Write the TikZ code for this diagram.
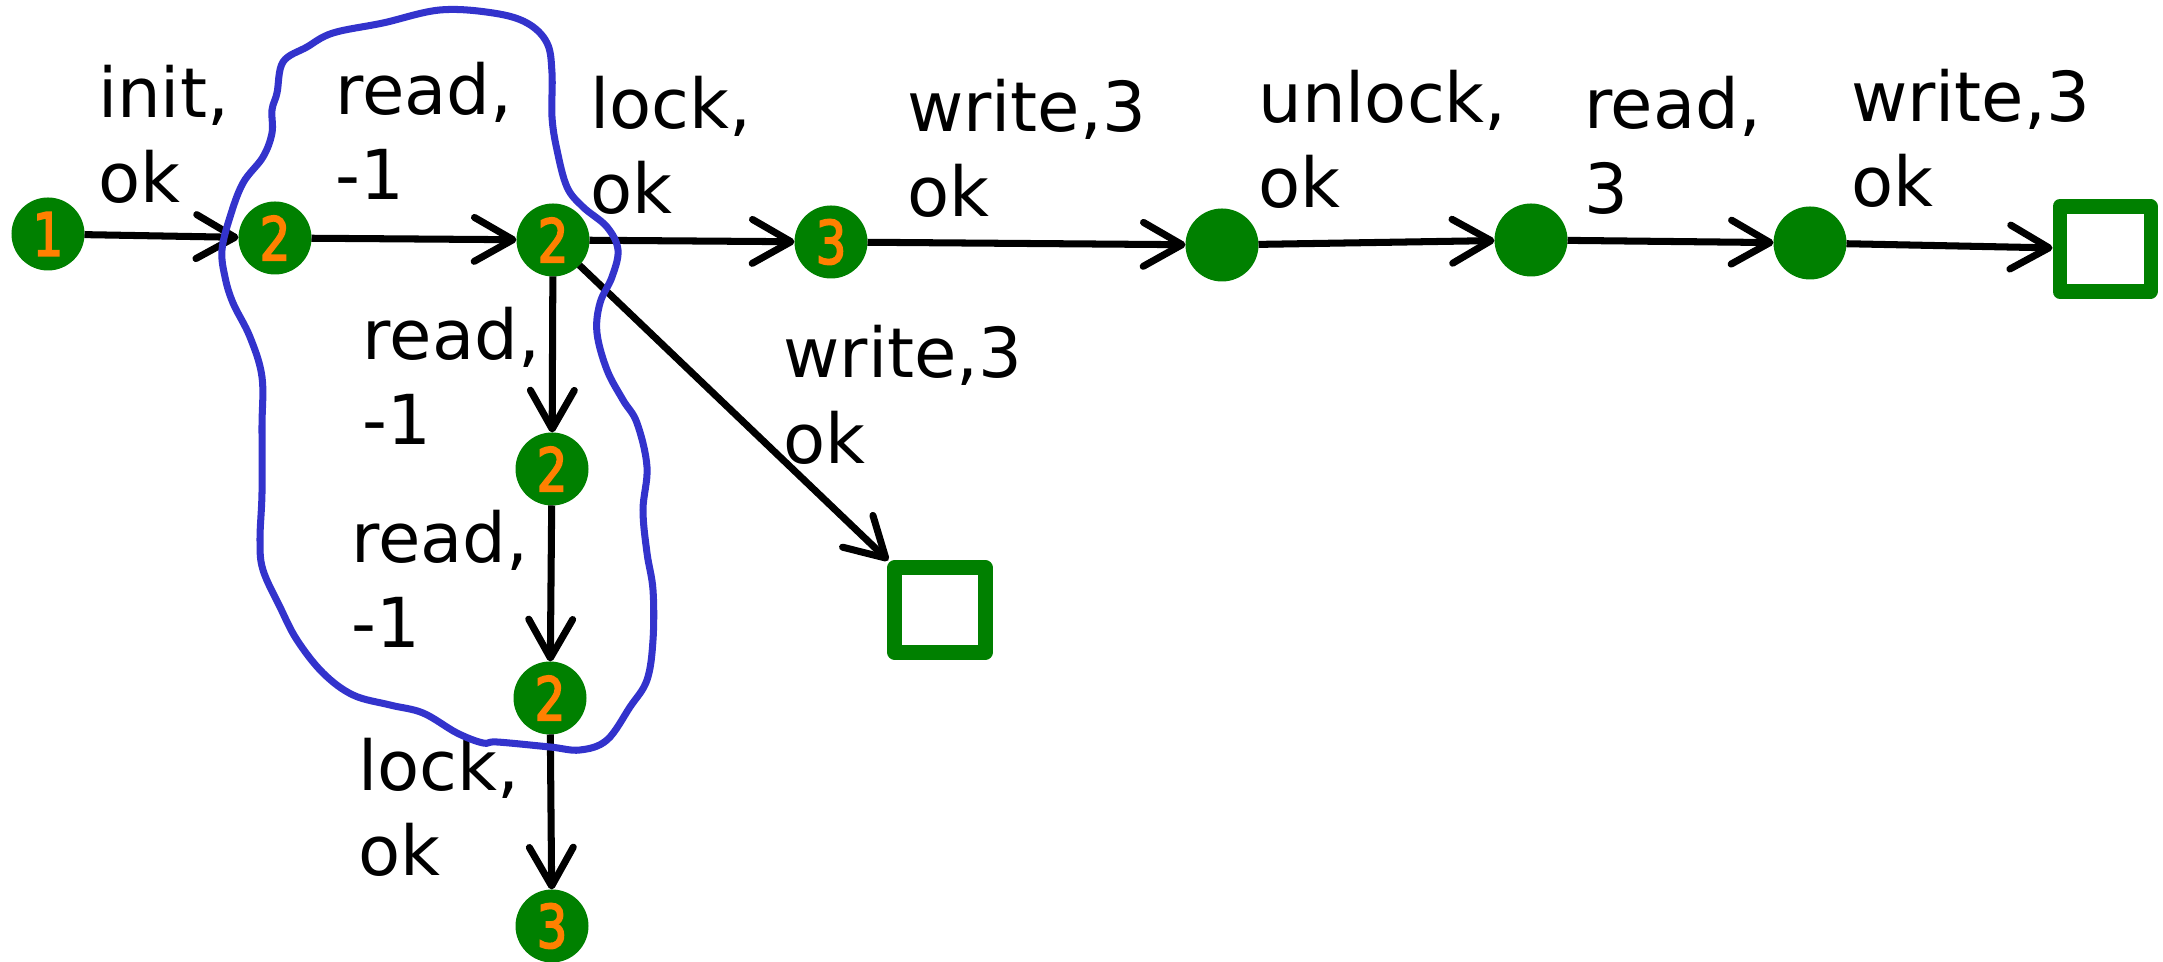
\documentclass[tikz,border=0pt]{standalone}
\usepackage{fontspec}
\setmainfont{DejaVu Sans}
\newfontfamily\digitfont[FakeStretch=0.8, FakeBold=3]{DejaVu Sans}
\usetikzlibrary{arrows.meta}
\definecolor{stategreen}{RGB}{0,128,0}
\definecolor{digitorange}{RGB}{255,128,0}
\definecolor{loopblue}{RGB}{51,51,204}

\begin{document}
\begin{tikzpicture}[line width=2pt, >={Straight Barb[length=11pt, width=12.5pt, round]},
	state/.style={circle, fill=stategreen, minimum size=0.73cm, inner sep=0pt, outer sep=0pt, text=digitorange, font=\digitfont\fontsize{17}{17}\selectfont},
	final/.style={rectangle, draw=stategreen, line width=4pt, line join=round, minimum width=0.91cm, minimum height=0.85cm, inner sep=0pt},
	lbl/.style={inner sep=0pt, align=left, font=\fontsize{19.6}{24.2}\selectfont}]
	\useasboundingbox (0,0) rectangle (21.63,9.62);
	% main run
	\node[state] (s1) at (0.48,7.28) {1};
	\node[state] (s2) at (2.75,7.24) {2};
	\node[state] (s3) at (5.53,7.22) {2};
	\node[state] (s4) at (8.31,7.20) {3};
	\node[state] (s5) at (12.22,7.17) {};
	\node[state] (s6) at (15.31,7.22) {};
	\node[state] (s7) at (18.10,7.19) {};
	\node[final] (f1) at (21.05,7.13) {};
	% branch below the second 2
	\node[state] (b1) at (5.52,4.93) {2};
	\node[state] (b2) at (5.50,2.64) {2};
	\node[state] (b3) at (5.52,0.36) {3};
	\node[final] (f2) at (9.40,3.52) {};
	\path[->]
		(s1) edge node[lbl, above=0.29cm, xshift=0.02cm] {init,\\ok} (s2)
		(s2) edge node[lbl, above=0.36cm, xshift=0.10cm] {read,\\-1} (s3)
		(s3) edge node[lbl, above=0.23cm, xshift=-0.21cm] {lock,\\ok} (s4)
			 edge node[lbl, left=0.09cm, yshift=-0.21cm] {read,\\-1} (b1)
			 edge node[lbl, right=0.46cm, yshift=0.18cm] {write,3\\ok} (f2)
		(s4) edge node[lbl, above=0.22cm] {write,3\\ok} (s5)
		(s5) edge node[lbl, above=0.30cm, xshift=0.06cm] {unlock,\\ok} (s6)
		(s6) edge node[lbl, above=0.23cm, xshift=0.02cm] {read,\\3} (s7)
		(s7) edge node[lbl, above=0.35cm, xshift=0.21cm] {write,3\\ok} (f1)
		(b1) edge node[lbl, left=0.19cm, yshift=0.05cm] {read,\\-1} (b2)
		(b2) edge node[lbl, left=0.28cm, yshift=0.05cm] {lock,\\ok} (b3);
	% hand drawn loop round the 2 states
	\draw[loopblue, line width=2pt] plot[smooth cycle, tension=0.6] coordinates {
		(4.40,9.52) (4.93,9.49) (5.27,9.39) (5.47,9.19) (5.52,8.89) (5.52,8.45)
		(5.57,8.12) (5.67,7.75) (5.83,7.55) (6.07,7.35) (6.18,7.12) (6.12,6.85)
		(6.00,6.59) (5.97,6.29) (6.07,5.92) (6.23,5.62) (6.37,5.39) (6.47,4.95)
		(6.43,4.52) (6.47,4.09) (6.53,3.72) (6.53,3.22) (6.47,2.82) (6.30,2.55)
		(6.07,2.22) (5.80,2.12) (5.50,2.15) (4.97,2.20) (4.83,2.19) (4.57,2.29)
		(4.23,2.49) (3.90,2.57) (3.53,2.67) (3.23,2.89) (2.97,3.22) (2.80,3.55)
		(2.63,3.92) (2.60,4.22) (2.62,4.69) (2.62,5.35) (2.62,5.85) (2.50,6.25)
		(2.33,6.59) (2.25,6.85) (2.22,7.12) (2.30,7.45) (2.43,7.79) (2.63,8.05)
		(2.72,8.29) (2.72,8.52) (2.77,8.69) (2.83,9.00) (3.07,9.15) (3.33,9.29)
		(3.83,9.39)};
\end{tikzpicture}
\end{document}
